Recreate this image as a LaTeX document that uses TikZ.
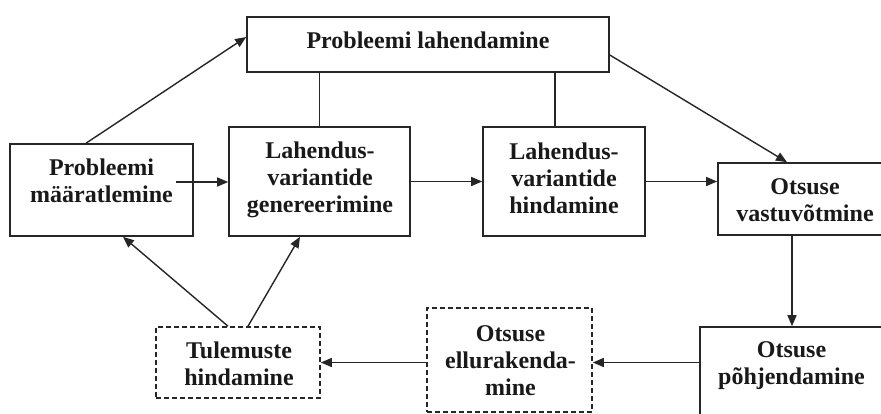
\documentclass[tikz,border=0pt]{standalone}
\usepackage{fontspec}
\setmainfont{Liberation Serif}
\usetikzlibrary{arrows.meta,fit}
\begin{document}
\begin{tikzpicture}[x=1pt,y=-1pt,
  box/.style={draw=black!85, line width=1.6pt, inner sep=0pt},
  dbox/.style={box, dash pattern=on 5pt off 3pt},
  txt/.style={align=center, font=\fontsize{24}{27}\selectfont\bfseries, text=black!90, inner sep=0pt},
  arr/.style={line width=1.4pt, draw=black!85, -{Triangle[length=11pt,width=9pt]}},
  ln/.style={line width=1.4pt, draw=black!85}]
\useasboundingbox (0,0) rectangle (881,413);
\clip (0,0) rectangle (881,413);
\fill[white] (0,0) rectangle (881,413);

% boxes
\node[box, fit={(247,17)(609,72)}] (top) {};
\node[box, fit={(10,144)(193,236)}] (pm) {};
\node[box, fit={(229,127)(410,236)}] (lg) {};
\node[box, fit={(483,127)(645,236)}] (lh) {};
\node[box, fit={(718,163)(895,235)}] (ov) {};
\node[box, fit={(700,327)(883,430)}] (op) {};
\node[dbox, fit={(427,308)(592,412)}] (oe) {};
\node[dbox, fit={(156,327)(320,398)}] (tu) {};

% texts
\node[txt] (topt) at (428,40.3) {Probleemi lahendamine};
\node[txt] (pmt) at (101.5,180.8) {Probleemi\\määratlemine};
\node[txt] (lgt) at (320,179.8) {Lahendus-\\variantide\\genereerimine};
\node[txt] (lht) at (564,178.3) {Lahendus-\\variantide\\hindamine};
\node[txt] (ovt) at (805,200.3) {Otsuse\\vastuvõtmine};
\node[txt] (opt) at (791.5,365.9) {Otsuse\\põhjendamine};
\node[txt] (oet) at (510.5,360.5) {Otsuse\\ellurakenda-\\mine};
\node[txt] (tut) at (239,363.3) {Tulemuste\\hindamine};

% connectors
\draw[arr] ([xshift=-15.5pt]pm.north) -- ([yshift=7.5pt]top.west);
\draw[arr] ([yshift=-10.5pt]top.east) -- ([xshift=-19.5pt]ov.north);
\draw[ln] (lg.north) -- (lg.north |- top.south);
\coordinate (c4) at ([xshift=-9pt]lh.north);
\draw[ln] (c4) -- (c4 |- top.south);
\coordinate (s1) at ([shift={(-18pt,8pt)}]pm.east);
\draw[arr] (s1) -- (s1 -| lg.west);
\draw[arr] (lg.east) -- (lh.west);
\draw[arr] (lh.east) -- (lh.east -| ov.west);
\coordinate (s2) at ([xshift=-14.5pt]ov.south);
\draw[arr] (s2) -- (s2 |- op.north);
\coordinate (s3) at ([yshift=-2.5pt]oe.east);
\draw[arr] (s3 -| op.west) -- (s3);
\coordinate (s4) at ([yshift=-2.5pt]oe.west);
\draw[arr] (s4) -- (s4 -| tu.east);
\draw[arr] ([xshift=-10pt]tu.north) -- ([xshift=21.5pt]pm.south);
\draw[arr] ([xshift=10pt]tu.north) -- ([xshift=-19.5pt]lg.south);
\end{tikzpicture}
\end{document}
